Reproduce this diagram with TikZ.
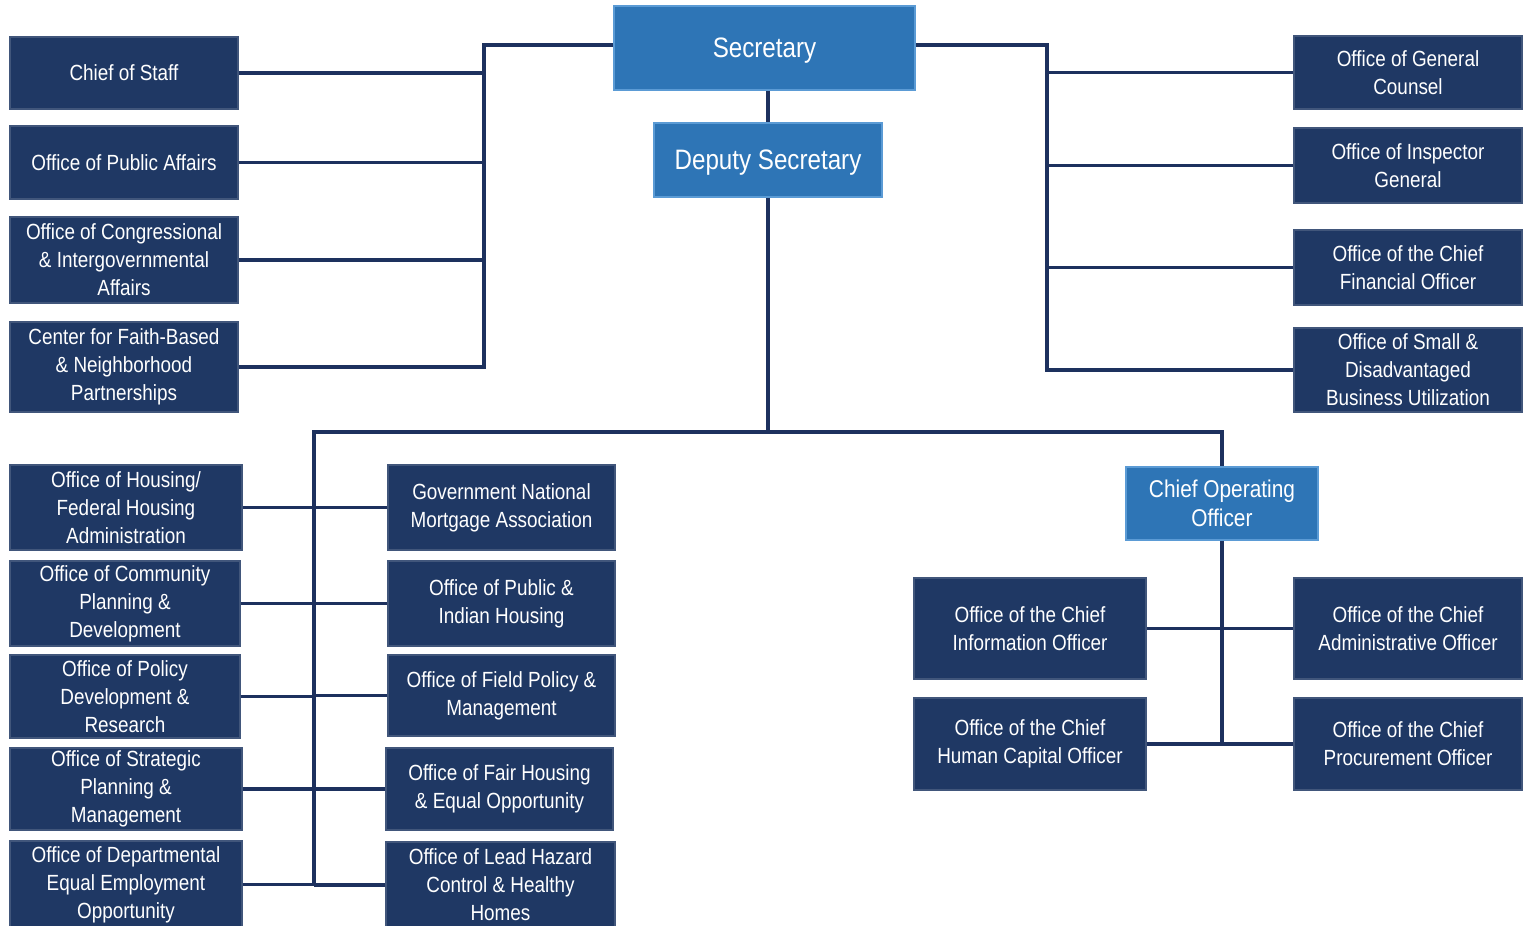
\documentclass[tikz,border=0pt]{standalone}
\usepackage{fontspec}
\setmainfont{Liberation Sans}[FakeStretch=0.86]
\definecolor{navy}{HTML}{1F3864}
\definecolor{midblue}{HTML}{2E75B6}
\definecolor{edgeblue}{HTML}{5B9BD5}
\definecolor{linenavy}{HTML}{1D315E}
\tikzset{
  % a box given by its corners (x1,y1) and (x2,y2), in drawing units
  area/.style n args={4}{minimum width={(#3-#1)*0.02cm}, minimum height={(#4-#2)*0.02cm},
    at={({(#1+#3)/2},{(#2+#4)/2})}},
  unitbox/.style={inner sep=0pt, align=center, text=white, line width=0.6pt, anchor=center},
  navybox/.style={unitbox, fill=navy, draw=navy!85!white, font=\fontsize{12.5}{15.9}\selectfont},
  topbox/.style={unitbox, fill=midblue, draw=edgeblue, line width=1pt, text depth=0pt,
    font=\fontsize{16}{19}\selectfont},
  coobox/.style={unitbox, fill=midblue, draw=edgeblue, line width=1pt, font=\fontsize{13.8}{16.5}\selectfont},
  link/.style={draw=linenavy, line width=2.1pt},
}
\begin{document}
\begin{tikzpicture}[x=0.02cm,y=-0.02cm]
\useasboundingbox[fill=white] (0,0) rectangle (1526,926);

% leadership
\node[topbox, area={614}{6}{915}{90}] (sec) {Secretary};
\node[topbox, area={654}{123}{882}{197}] (dep) {Deputy Secretary};

% staff offices, left
\node[navybox, area={10}{37}{238}{109}] (cos) {Chief of Staff};
\node[navybox, area={10}{126}{238}{199}] (opa) {Office of Public Affairs};
\node[navybox, area={10}{217}{238}{303}] (ocir) {Office of Congressional\\\& Intergovernmental\\Affairs};
\node[navybox, area={10}{322}{238}{412}] (cfbnp) {Center for Faith-Based\\\& Neighborhood\\Partnerships};

% staff offices, right
\node[navybox, area={1294}{36}{1522}{109}] (ogc) {Office of General\\Counsel};
\node[navybox, area={1294}{128}{1522}{203}] (oig) {Office of Inspector\\General};
\node[navybox, area={1294}{230}{1522}{305}] (ocfo) {Office of the Chief\\Financial Officer};
\node[navybox, area={1294}{328}{1522}{412}] (osdbu) {Office of Small \&\\Disadvantaged\\Business Utilization};

% program offices, left column
\node[navybox, area={10}{465}{242}{550}] (hous) {Office of Housing/\\Federal Housing\\Administration};
\node[navybox, area={10}{561}{240}{646}] (cpd) {Office of Community\\Planning \&\\Development};
\node[navybox, area={10}{655}{240}{738}] (pdr) {Office of Policy\\Development \&\\Research};
\node[navybox, area={10}{748}{242}{830}] (spm) {Office of Strategic\\Planning \&\\Management};
\node[navybox, area={10}{841}{242}{928}] (eeo) {Office of Departmental\\Equal Employment\\Opportunity};

% program offices, right column
\node[navybox, area={388}{465}{615}{550}] (gnma) {Government National\\Mortgage Association};
\node[navybox, area={388}{561}{615}{646}] (pih) {Office of Public \&\\Indian Housing};
\node[navybox, area={388}{655}{615}{736}] (fpm) {Office of Field Policy \&\\Management};
\node[navybox, area={386}{748}{613}{830}] (fheo) {Office of Fair Housing\\\& Equal Opportunity};
\node[navybox, area={386}{842}{615}{928}] (lead) {Office of Lead Hazard\\Control \& Healthy\\Homes};

% operations
\node[coobox, area={1126}{467}{1318}{540}] (coo) {Chief Operating\\Officer};
\node[navybox, area={914}{578}{1146}{679}] (cio) {Office of the Chief\\Information Officer};
\node[navybox, area={1294}{578}{1522}{679}] (cao) {Office of the Chief\\Administrative Officer};
\node[navybox, area={914}{698}{1146}{790}] (chco) {Office of the Chief\\Human Capital Officer};
\node[navybox, area={1294}{698}{1522}{790}] (cpo) {Office of the Chief\\Procurement Officer};

% bus positions
\coordinate (busL) at (484,45);
\coordinate (busR) at (1047,45);
\coordinate (busLow) at (314,432);

% secretary to staff offices
\draw[link] ([yshift=0.06cm]sec.west) -| (busL |- cfbnp.east) -- (cfbnp.east);
\foreach \n in {cos,opa,ocir} \draw[link] (\n.east) -- (\n.east -| busL);
\draw[link] ([yshift=0.06cm]sec.east) -| (busR |- osdbu.west) -- (osdbu.west);
\foreach \n in {ogc,oig,ocfo} \draw[link] (\n.west) -- (\n.west -| busR);

% secretary to deputy and programs
\draw[link] (dep.north |- sec.south) -- (dep.north);
\draw[link] (dep.south) -- (dep.south |- busLow);
\draw[link] (eeo.east -| busLow) -- (busLow) -| (coo.north);
\foreach \n in {hous,cpd,pdr,spm,eeo} \draw[link] (\n.east) -- (\n.east -| busLow);
\foreach \n in {gnma,pih,fpm,fheo,lead} \draw[link] (\n.west) -- (\n.west -| busLow);

% operations branch
\draw[link] (coo.south) -- (coo.south |- chco.east);
\foreach \n in {cio,chco} \draw[link] (\n.east) -- (\n.east -| coo.south);
\foreach \n in {cao,cpo} \draw[link] (\n.west) -- (\n.west -| coo.south);
\end{tikzpicture}
\end{document}
